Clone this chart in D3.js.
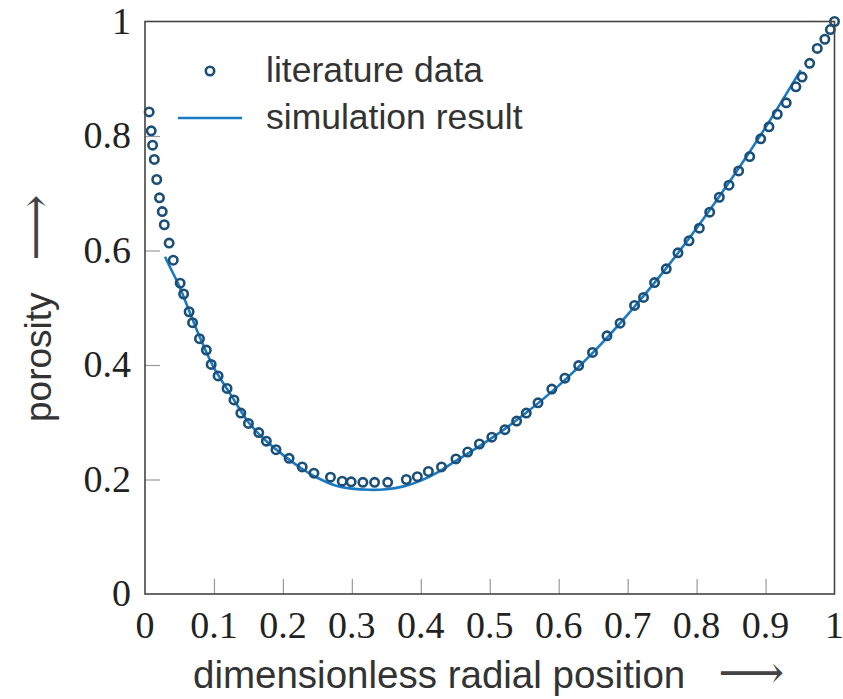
<!DOCTYPE html>
<html><head><meta charset="utf-8">
<script src="https://cdn.jsdelivr.net/npm/d3@7"></script>
<style>body{margin:0;background:#fff}svg{display:block}</style>
</head><body>
<svg id="c" width="843" height="699"></svg>
<script>
// literature data
const litX = [0.006,0.009,0.011,0.0135,0.017,0.021,0.025,0.028,0.035,0.041,0.051,0.056,0.064,0.069,0.079,0.089,0.096,0.106,0.119,0.129,0.139,0.150,0.165,0.176,0.190,0.209,0.228,0.245,0.269,0.286,0.299,0.316,0.333,0.352,0.379,0.395,0.411,0.430,0.451,0.468,0.485,0.503,0.522,0.539,0.553,0.570,0.590,0.609,0.629,0.649,0.670,0.689,0.710,0.723,0.739,0.756,0.773,0.789,0.804,0.819,0.833,0.847,0.861,0.877,0.893,0.905,0.917,0.930,0.944,0.953,0.964,0.975,0.986,0.994,1.000];
const litY = [0.842,0.809,0.784,0.759,0.724,0.692,0.668,0.645,0.613,0.583,0.543,0.524,0.493,0.474,0.446,0.426,0.401,0.381,0.359,0.339,0.316,0.298,0.282,0.267,0.252,0.237,0.222,0.211,0.204,0.197,0.196,0.195,0.195,0.195,0.200,0.205,0.214,0.222,0.236,0.248,0.262,0.274,0.287,0.302,0.316,0.334,0.358,0.377,0.399,0.422,0.451,0.473,0.504,0.518,0.544,0.568,0.596,0.617,0.639,0.667,0.693,0.714,0.739,0.764,0.795,0.816,0.838,0.858,0.886,0.903,0.927,0.953,0.969,0.986,1.000];
// simulation result
const simX = [0.029,0.04,0.05,0.06,0.08,0.1,0.125,0.15,0.175,0.2,0.225,0.25,0.275,0.3,0.325,0.35,0.375,0.4,0.425,0.45,0.5,0.55,0.6,0.65,0.7,0.75,0.8,0.85,0.9,0.951];
const simY = [0.589,0.562,0.537,0.507,0.447,0.395,0.347,0.300,0.268,0.243,0.221,0.203,0.190,0.184,0.182,0.183,0.188,0.198,0.213,0.232,0.270,0.314,0.364,0.422,0.488,0.560,0.639,0.724,0.815,0.915];
// ticks
const xTicks = [0,0.1,0.2,0.3,0.4,0.5,0.6,0.7,0.8,0.9,1];
const xTickLabels = ["0","0.1","0.2","0.3","0.4","0.5","0.6","0.7","0.8","0.9","1"];
const yTicks = [0,0.2,0.4,0.6,0.8,1];
const yTickLabels = ["0","0.2","0.4","0.6","0.8","1"];
const legendLabels = ["literature data","simulation result"];
const xTitle = "dimensionless radial position";
const yTitle = "porosity";

const svg = d3.select("#c");
const L = 145, R = 834.5, T = 21.5, B = 594;
const x = d3.scaleLinear().domain([0,1]).range([L,R]);
const y = d3.scaleLinear().domain([0,1]).range([B,T]);
const dotColor = "#1c4f78", lineColor = "#1a7ac4";

// inward ticks
const tickLen = 15;
const xAxis = d3.axisTop(x).tickValues(xTicks.slice(1,-1)).tickSize(tickLen).tickFormat("");
const gx = svg.append("g").attr("transform",`translate(0,${B})`).call(xAxis);
gx.select(".domain").remove();
gx.selectAll("line").attr("stroke","#999").attr("stroke-width",1.2);
const yAxis = d3.axisRight(y).tickValues(yTicks.slice(1,-1)).tickSize(tickLen).tickFormat("");
const gy = svg.append("g").attr("transform",`translate(${L},0)`).call(yAxis);
gy.select(".domain").remove();
gy.selectAll("line").attr("stroke","#999").attr("stroke-width",1.2);

// tick labels
svg.append("g").selectAll("text").data(xTicks).join("text")
  .attr("x",d=>x(d)).attr("y",B+44)
  .attr("text-anchor","middle")
  .attr("font-family","'Liberation Serif','DejaVu Serif',serif").attr("font-size",38)
  .attr("fill","#222").text((d,i)=>xTickLabels[i]);
svg.append("g").selectAll("text").data(yTicks).join("text")
  .attr("x",L-14).attr("y",d=>y(d)+12)
  .attr("text-anchor","end")
  .attr("font-family","'Liberation Serif','DejaVu Serif',serif").attr("font-size",38)
  .attr("fill","#222").text((d,i)=>yTickLabels[i]);

// simulation line
const line = d3.line().x(d=>x(d[0])).y(d=>y(d[1])).curve(d3.curveCatmullRom);
svg.append("path").datum(simX.map((v,i)=>[v,simY[i]]))
  .attr("d",line).attr("fill","none").attr("stroke",lineColor).attr("stroke-width",2.6);

// literature points
svg.append("g").selectAll("circle").data(litX.map((v,i)=>[v,litY[i]])).join("circle")
  .attr("cx",d=>x(d[0])).attr("cy",d=>y(d[1])).attr("r",4.2)
  .attr("fill","none").attr("stroke",dotColor).attr("stroke-width",2.6);

// frame
svg.append("rect").attr("x",L).attr("y",T).attr("width",R-L).attr("height",B-T)
  .attr("fill","none").attr("stroke","#444").attr("stroke-width",1.6);

// legend
const lg = svg.append("g");
lg.append("circle").attr("cx",210).attr("cy",71).attr("r",4.2)
  .attr("fill","none").attr("stroke",dotColor).attr("stroke-width",2.6);
lg.append("line").attr("x1",178).attr("x2",242).attr("y1",118).attr("y2",118)
  .attr("stroke",lineColor).attr("stroke-width",2.6);
lg.selectAll("text").data(legendLabels).join("text")
  .attr("x",266).attr("y",(d,i)=>82+i*47)
  .attr("font-family","'Liberation Sans',Arial,sans-serif").attr("font-size",35.5)
  .attr("fill","#333").text(d=>d);

// axis titles
const xt = svg.append("text").attr("x",193).attr("y",688)
  .attr("font-family","'Liberation Sans',Arial,sans-serif").attr("font-size",38.5).attr("fill","#333");
xt.append("tspan").text(xTitle);
xt.append("tspan").attr("dx",33).attr("font-family","'DejaVu Serif',serif").attr("font-size",46).attr("fill","#444").text("\u27F6");

const yt = svg.append("text").attr("transform","translate(51,422) rotate(-90)")
  .attr("font-family","'Liberation Sans',Arial,sans-serif").attr("font-size",37).attr("fill","#333");
yt.append("tspan").text(yTitle);
yt.append("tspan").attr("dx",32).attr("font-family","'DejaVu Serif',serif").attr("font-size",46).attr("fill","#444").text("\u27F6");
</script>
</body></html>
